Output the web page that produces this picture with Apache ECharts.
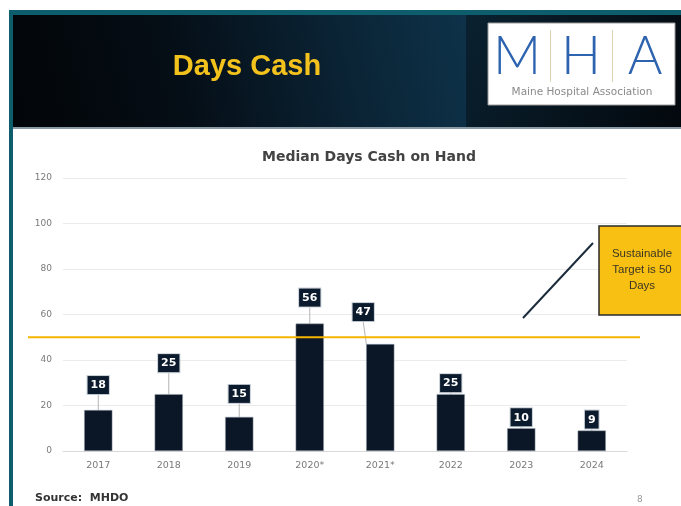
<!DOCTYPE html>
<html>
<head>
<meta charset="utf-8">
<script src="https://cdn.jsdelivr.net/npm/echarts@6/dist/echarts.min.js"></script>
<style>
  html, body { margin: 0; padding: 0; background: #fff; }
  #chart { width: 681px; height: 506px; }
</style>
</head>
<body>
<div id="chart"></div>
<script>
// data
const years = ['2017', '2018', '2019', '2020*', '2021*', '2022', '2023', '2024'];
const daysCash = [18, 25, 15, 56, 47, 25, 10, 9];
const targetDays = 50;
const yMax = 120;
const yStep = 20;

// label nudges (px), per bar
const labelNudge = [[0, -14], [0, -20], [0, -12], [0, -15], [-17, -21], [0, 0], [0, 0], [0, 0]];

var myChart = echarts.init(document.getElementById('chart'));

myChart.setOption({
  animation: false,
  grid: { left: 63, right: 54, top: 178, bottom: 55 },
  title: {
    text: 'Median Days Cash on Hand',
    left: 364,
    top: 145,
    textAlign: 'center',
    textStyle: { fontFamily: 'DejaVu Sans', fontSize: 14, fontWeight: 'bold', color: '#434343' }
  },
  xAxis: {
    type: 'category',
    data: years,
    axisLine: { lineStyle: { color: '#d9d9d9' } },
    axisTick: { show: false },
    axisLabel: { color: '#7a7a7a', fontFamily: 'DejaVu Sans', fontSize: 9.5, margin: 10 }
  },
  yAxis: {
    type: 'value',
    min: 0,
    max: yMax,
    interval: yStep,
    axisLine: { show: false },
    axisTick: { show: false },
    splitLine: { lineStyle: { color: '#ebebeb' } },
    axisLabel: { color: '#7a7a7a', fontFamily: 'DejaVu Sans', fontSize: 9, margin: 11 }
  },
  series: [{
    type: 'bar',
    data: daysCash,
    barCategoryGap: '60%',
    itemStyle: { color: '#0b1626', borderColor: '#9aa5b1', borderWidth: 0.5 },
    label: {
      show: true,
      position: 'top',
      distance: 2,
      color: '#fff',
      fontFamily: 'DejaVu Sans',
      fontWeight: 'bold',
      fontSize: 11,
      backgroundColor: '#0b1a2c',
      borderColor: '#c8d0d8',
      borderWidth: 1,
      padding: [4, 3, 3, 3]
    },
    labelLine: { show: true, lineStyle: { color: '#b5b5b5', width: 1 } },
    labelLayout: function (p) {
      var n = labelNudge[p.dataIndex];
      return { dx: n[0], dy: n[1] };
    }
  }],
  graphic: [
    // slide frame
    { type: 'rect', shape: { x: 9, y: 10, width: 672, height: 5 }, style: { fill: '#0e5d6c' }, z: 10 },
    { type: 'rect', shape: { x: 9, y: 10, width: 4, height: 496 }, style: { fill: '#0e5d6c' }, z: 10 },
    {
      type: 'rect', shape: { x: 13, y: 15, width: 453, height: 112 }, z: 5,
      style: {
        fill: new echarts.graphic.LinearGradient(0, 1, 1, 0, [
          { offset: 0, color: '#020508' },
          { offset: 0.35, color: '#050d15' },
          { offset: 0.7, color: '#0a2233' },
          { offset: 1, color: '#0e3249' }
        ])
      }
    },
    {
      type: 'rect', shape: { x: 466, y: 15, width: 215, height: 112 }, z: 5,
      style: {
        fill: new echarts.graphic.LinearGradient(0, 0, 1, 1, [
          { offset: 0, color: '#0a2130' },
          { offset: 1, color: '#03080d' }
        ])
      }
    },
    { type: 'rect', shape: { x: 13, y: 127, width: 668, height: 2 }, style: { fill: '#8a9aa4' }, z: 6 },
    {
      type: 'text', x: 247, y: 67, z: 7,
      style: { text: 'Days Cash', fill: '#f4c21c', fontFamily: 'Liberation Sans', fontWeight: 'bold', fontSize: 29, align: 'center', verticalAlign: 'middle' }
    },
    // logo
    { type: 'rect', shape: { x: 488, y: 23, width: 187, height: 82 }, style: { fill: '#fff', stroke: '#9a9a9a', lineWidth: 1 }, z: 7 },
    { type: 'rect', shape: { x: 550, y: 30, width: 1, height: 52 }, style: { fill: '#e0d2b5' }, z: 8 },
    { type: 'rect', shape: { x: 612, y: 30, width: 1, height: 52 }, style: { fill: '#e0d2b5' }, z: 8 },
    { type: 'text', x: 517, y: 57, z: 8, style: { text: 'M', fill: '#2e63b0', fontFamily: 'Lato', fontWeight: 300, fontSize: 53, align: 'center', verticalAlign: 'middle' } },
    { type: 'text', x: 581, y: 57, z: 8, style: { text: 'H', fill: '#2e63b0', fontFamily: 'Lato', fontWeight: 300, fontSize: 53, align: 'center', verticalAlign: 'middle' } },
    { type: 'text', x: 645, y: 57, z: 8, style: { text: 'A', fill: '#2e63b0', fontFamily: 'Lato', fontWeight: 300, fontSize: 53, align: 'center', verticalAlign: 'middle' } },
    { type: 'text', x: 582, y: 92, z: 8, style: { text: 'Maine Hospital Association', fill: '#8a8a8a', fontFamily: 'DejaVu Sans', fontSize: 10.5, align: 'center', verticalAlign: 'middle' } },
    // callout
    { type: 'line', shape: { x1: 523, y1: 318, x2: 593, y2: 243 }, style: { stroke: '#1b2b3b', lineWidth: 2 }, z: 9 },
    { type: 'rect', shape: { x: 599, y: 226, width: 90, height: 89 }, style: { fill: '#f8c013', stroke: '#2a2a2a', lineWidth: 1.5 }, z: 9 },
    {
      type: 'text', x: 642, y: 270, z: 10,
      style: { text: 'Sustainable\nTarget is 50\nDays', fill: '#3a3525', fontFamily: 'Liberation Sans', fontSize: 11.5, lineHeight: 16, align: 'center', verticalAlign: 'middle' }
    },
    // footer
    { type: 'text', x: 35, y: 498, z: 10, style: { text: 'Source:  MHDO', fill: '#333', fontFamily: 'DejaVu Sans', fontWeight: 'bold', fontSize: 11, verticalAlign: 'middle' } },
    { type: 'text', x: 637, y: 500, z: 10, style: { text: '8', fill: '#999', fontFamily: 'DejaVu Sans', fontSize: 9, verticalAlign: 'middle' } }
  ]
});

// target line, placed through the value axis
var ty = myChart.convertToPixel({ yAxisIndex: 0 }, targetDays);
myChart.setOption({
  graphic: [{
    type: 'line', id: 'target', z: 8,
    shape: { x1: 28, y1: ty, x2: 640, y2: ty },
    style: { stroke: '#f5b400', lineWidth: 2 }
  }]
});
</script>
</body>
</html>
